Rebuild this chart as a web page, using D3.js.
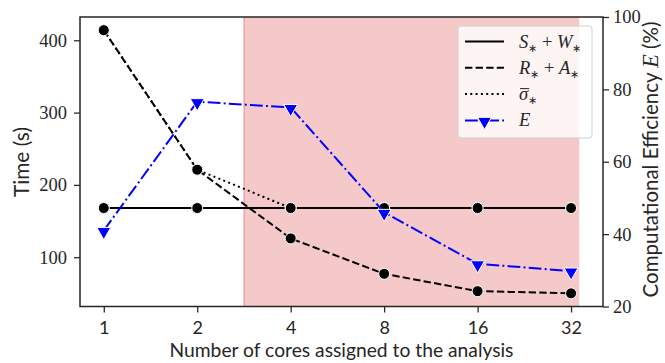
<!DOCTYPE html>
<html lang="en">
<head>
<meta charset="UTF-8">
<script src="https://cdn.jsdelivr.net/npm/d3@7"></script>
<style>
  body { margin: 0; background: #fff; }
  text { fill: #262626; }
</style>
</head>
<body>
<script>
// values
const cores = [1, 2, 4, 8, 16, 32];
const timeSW = [168, 168, 168, 168, 168, 168];
const timeRA = [414, 221, 126, 77, 53, 50];
const timeSigma = [414, 221, 168, 168, 168, 168];
const efficiency = [41, 76.6, 75, 46, 31.8, 29.8];
const leftTicks = [100, 200, 300, 400];
const rightTicks = [20, 40, 60, 80, 100];
const shadeSpan = [2.83, 34];

const width = 665, height = 363;
const margin = {left: 80, right: 62, top: 17, bottom: 56.5};
const serif = "'Liberation Serif', serif";
const sans = "Lato, sans-serif";
const ink = "#262626";
const lw = 2;

const svg = d3.select("body").append("svg")
  .attr("width", width).attr("height", height);

// x: log2, 5% padding in log space (span included)
const lx = [Math.log2(cores[0]), Math.log2(shadeSpan[1])];
const lpad = (lx[1] - lx[0]) * 0.05;
const x = d3.scaleLog().base(2)
  .domain([2 ** (lx[0] - lpad), 2 ** (lx[1] + lpad)])
  .range([margin.left, width - margin.right]);

const all = timeSW.concat(timeRA, timeSigma);
const ext = d3.extent(all);
const ypad = (ext[1] - ext[0]) * 0.05;
const y = d3.scaleLinear().domain([ext[0] - ypad, ext[1] + ypad])
  .range([height - margin.bottom, margin.top]);
const y2 = d3.scaleLinear().domain([20, 100])
  .range([height - margin.bottom, margin.top]);

const x0 = margin.left, x1 = width - margin.right;
const yTop = margin.top, yBot = height - margin.bottom;

// shaded region
svg.append("rect")
  .attr("x", x(shadeSpan[0])).attr("y", yTop)
  .attr("width", x(shadeSpan[1]) - x(shadeSpan[0]))
  .attr("height", yBot - yTop)
  .attr("fill", "#d62728").attr("fill-opacity", 0.25);
svg.append("line")
  .attr("x1", x(shadeSpan[0])).attr("x2", x(shadeSpan[0]))
  .attr("y1", yTop).attr("y2", yBot)
  .attr("stroke", "#d62728").attr("stroke-opacity", 0.3).attr("stroke-width", 1.5);

// lines
const dashSolid = null, dashDash = "7.4,3.2", dashDot = "2,3.3", dashDashDot = "12.8,3.2,2,3.2";
const series = [
  {vals: timeSW, dash: dashSolid},
  {vals: timeRA, dash: dashDash},
  {vals: timeSigma, dash: dashDot}
];
const line = d3.line().x((d, i) => x(cores[i])).y(d => y(d));
series.forEach(s => {
  svg.append("path").datum(s.vals)
    .attr("d", line)
    .attr("fill", "none").attr("stroke", "#000").attr("stroke-width", lw)
    .attr("stroke-dasharray", s.dash);
  svg.append("g").selectAll("circle").data(s.vals).join("circle")
    .attr("cx", (d, i) => x(cores[i])).attr("cy", d => y(d))
    .attr("r", 5.5).attr("fill", "#000")
    .attr("stroke", "#fff").attr("stroke-width", 1);
});

const tri = d3.symbol().type(d3.symbolTriangle).size(85);
const line2 = d3.line().x((d, i) => x(cores[i])).y(d => y2(d));
svg.append("path").datum(efficiency)
  .attr("d", line2)
  .attr("fill", "none").attr("stroke", "#0000ff").attr("stroke-width", lw)
  .attr("stroke-dasharray", dashDashDot);
svg.append("g").selectAll("path").data(efficiency).join("path")
  .attr("d", tri)
  .attr("transform", (d, i) => `translate(${x(cores[i])},${y2(d) + 1}) rotate(180)`)
  .attr("fill", "#0000ff").attr("stroke", "#fff").attr("stroke-width", 1);

// axes
const axB = svg.append("g").attr("transform", `translate(0,${yBot})`)
  .call(d3.axisBottom(x).tickValues(cores).tickFormat(d3.format("d")).tickSize(6));
const axL = svg.append("g").attr("transform", `translate(${x0},0)`)
  .call(d3.axisLeft(y).tickValues(leftTicks).tickSize(6).tickPadding(7));
const axR = svg.append("g").attr("transform", `translate(${x1},0)`)
  .call(d3.axisRight(y2).tickValues(rightTicks).tickSize(6).tickPadding(4));
[axB, axL, axR].forEach(a => {
  a.select(".domain").remove();
  a.selectAll("line").attr("stroke", ink).attr("stroke-width", 1.25);
  a.selectAll("text").attr("font-family", serif).attr("font-size", 18.5).attr("fill", ink);
});
axB.selectAll("text").attr("font-family", sans).attr("font-size", 18)
  .attr("y", 27).attr("dy", 0);

// frame
svg.append("rect").attr("x", x0).attr("y", yTop)
  .attr("width", x1 - x0).attr("height", yBot - yTop)
  .attr("fill", "none").attr("stroke", ink).attr("stroke-width", 1.5);

// scale a label's font so it spans the same length as in the figure
function fitText(t, target) {
  const w = t.node().getComputedTextLength();
  const fs = parseFloat(t.attr("font-size"));
  const k = target / w;
  t.attr("font-size", fs * k);
  t.selectAll("tspan").each(function () {
    const s = d3.select(this), f = s.attr("font-size");
    if (f) s.attr("font-size", parseFloat(f) * k);
  });
}

// axis labels
const xl = svg.append("text").attr("x", (x0 + x1) / 2).attr("y", 356.5)
  .attr("text-anchor", "middle").attr("font-family", sans).attr("font-size", 17)
  .text("Number of cores assigned to the analysis");
fitText(xl, 344);
const yl = svg.append("text").attr("transform", `translate(29,162) rotate(-90)`)
  .attr("text-anchor", "middle").attr("font-family", sans).attr("font-size", 17)
  .text("Time (s)");
fitText(yl, 70);
const rl = svg.append("text").attr("transform", `translate(657.5,159.5) rotate(-90)`)
  .attr("text-anchor", "middle").attr("font-family", sans).attr("font-size", 17);
rl.append("tspan").text("Computational Efficiency ");
rl.append("tspan").attr("font-family", serif).attr("font-style", "italic").attr("font-size", 18.5).text("E");
rl.append("tspan").text(" (%)");
fitText(rl, 276);

// legend
const lg = svg.append("g").attr("transform", "translate(458,26)");
lg.append("rect").attr("width", 134).attr("height", 112).attr("rx", 3)
  .attr("fill", "#fff").attr("fill-opacity", 0.8)
  .attr("stroke", "#d0d0d0").attr("stroke-width", 1);
const items = [
  {parts: [["S", 1], ["∗", 2], [" + ", 0], ["W", 1], ["∗", 2]], color: "#000", dash: dashSolid},
  {parts: [["R", 1], ["∗", 2], [" + ", 0], ["A", 1], ["∗", 2]], color: "#000", dash: dashDash},
  {parts: [["σ", 3], ["∗", 2]], color: "#000", dash: dashDot},
  {parts: [["E", 1]], color: "#0000ff", dash: dashDashDot, marker: true}
];
items.forEach((it, i) => {
  const cy = 15.5 + i * 26.3;
  lg.append("line").attr("x1", 7).attr("x2", 46).attr("y1", cy).attr("y2", cy)
    .attr("stroke", it.color).attr("stroke-width", lw).attr("stroke-dasharray", it.dash);
  if (it.marker) {
    lg.append("path").attr("d", tri)
      .attr("transform", `translate(26.5,${cy + 1}) rotate(180)`)
      .attr("fill", it.color).attr("stroke", "#fff").attr("stroke-width", 1);
  }
  const t = lg.append("text").attr("x", 61).attr("y", cy + 6)
    .attr("font-family", serif).attr("font-size", 18.5);
  let sub = false;
  it.parts.forEach(([s, k]) => {
    const ts = t.append("tspan").text(s);
    if (k === 1 || k === 3) ts.attr("font-style", "italic");
    if (k === 2) { ts.attr("font-size", 11).attr("dy", 4); sub = true; }
    else if (sub) { ts.attr("dy", -4); sub = false; }
  });
  // bar over sigma
  if (it.parts[0][1] === 3) {
    const w = t.node().getSubStringLength(0, 1);
    lg.append("line").attr("x1", 62).attr("x2", 61 + w + 1)
      .attr("y1", cy - 5.5).attr("y2", cy - 5.5)
      .attr("stroke", ink).attr("stroke-width", 1);
  }
});
</script>
</body>
</html>
